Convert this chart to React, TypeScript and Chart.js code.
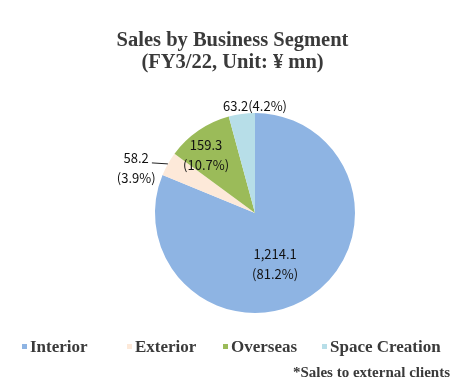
import React, { useEffect, useRef } from "react";
import { Chart, registerables } from "chart.js";

Chart.register(...registerables);

const categories = ["Interior", "Exterior", "Overseas", "Space Creation"];
const sales = [1214.1, 58.2, 159.3, 63.2];
const shares = [81.2, 3.9, 10.7, 4.2];
const colors = ["#8EB4E3", "#FDE9D9", "#9BBB59", "#B7DEE8"];
const titleLines = ["Sales by Business Segment", "(FY3/22, Unit: \u00A5 mn)"];
const footnote = "*Sales to external clients";

// label placement style: radial fraction, angular shift (deg), layout
const labelStyle = [
  { r: 0.55, dA: 12.4, oneLine: false, leader: false },
  { r: 1.27, dA: -8.7, oneLine: false, leader: true },
  { r: 0.755, dA: -6.0, oneLine: false, leader: false },
  { r: 1.07, dA: 7.6, oneLine: true, leader: false },
];
const legendX = [22, 127, 223, 322];

const TEXT = "#3a3a3a";
const SERIF = '"Liberation Serif", "Times New Roman", serif';
const LABEL_FONT = '13px "Noto Sans CJK JP", "DejaVu Sans", sans-serif';

function fmt(v: number) {
  return v.toLocaleString("en-US", { minimumFractionDigits: 1, maximumFractionDigits: 1 });
}

const decorPlugin = {
  id: "decor",
  afterDraw(chart: any) {
    const ctx = chart.ctx as CanvasRenderingContext2D;
    ctx.save();
    // title
    ctx.fillStyle = TEXT;
    ctx.font = `bold 20.5px ${SERIF}`;
    ctx.textAlign = "center";
    ctx.textBaseline = "alphabetic";
    ctx.fillText(titleLines[0], 232.5, 46);
    ctx.fillText(titleLines[1], 232.5, 67.5);

    // legend
    ctx.font = `bold 17px ${SERIF}`;
    ctx.textAlign = "left";
    categories.forEach((c, i) => {
      ctx.fillStyle = colors[i];
      ctx.fillRect(legendX[i], 344, 5, 5);
      ctx.fillStyle = TEXT;
      ctx.fillText(c, legendX[i] + 8, 352);
    });

    // footnote
    ctx.font = `bold 15px ${SERIF}`;
    ctx.textAlign = "right";
    ctx.fillText(footnote, 450, 377);

    // data labels
    const meta = chart.getDatasetMeta(0);
    ctx.font = LABEL_FONT;
    ctx.fillStyle = "#111";
    ctx.textAlign = "center";
    ctx.textBaseline = "middle";
    meta.data.forEach((arc: any, i: number) => {
      const p = arc.getProps(["x", "y", "startAngle", "endAngle", "outerRadius"], true);
      const st = labelStyle[i];
      const mid = (p.startAngle + p.endAngle) / 2;
      const a = mid + (st.dA * Math.PI) / 180;
      const lx = p.x + Math.cos(a) * p.outerRadius * st.r;
      const ly = p.y + Math.sin(a) * p.outerRadius * st.r;
      const v = fmt(sales[i]);
      const s = `(${shares[i].toFixed(1)}%)`;
      if (st.oneLine) {
        ctx.fillText(v + s, lx, ly);
      } else {
        ctx.fillText(v, lx, ly - 10);
        ctx.fillText(s, lx, ly + 10);
      }
      if (st.leader) {
        const ex = p.x + Math.cos(mid) * p.outerRadius;
        const ey = p.y + Math.sin(mid) * p.outerRadius;
        ctx.strokeStyle = "#222";
        ctx.lineWidth = 1;
        ctx.beginPath();
        ctx.moveTo(ex, ey);
        ctx.lineTo(ex - 16, ey - 1);
        ctx.stroke();
      }
    });
    ctx.restore();
  },
};

export default function App() {
  const ref = useRef<HTMLCanvasElement | null>(null);
  useEffect(() => {
    if (!ref.current) return;
    const chart = new Chart(ref.current, {
      type: "pie",
      data: {
        labels: categories,
        datasets: [
          {
            data: sales,
            backgroundColor: colors,
            borderWidth: 0,
          },
        ],
      },
      options: {
        responsive: false,
        animation: false,
        devicePixelRatio: 1,
        layout: { padding: { top: 113, bottom: 77, left: 45, right: 0 } },
        plugins: {
          legend: { display: false },
          title: { display: false },
          tooltip: { enabled: false },
        },
      },
      plugins: [decorPlugin],
    });
    return () => chart.destroy();
  }, []);
  return (
    <div style={{ position: "absolute", left: 0, top: 0, width: 465, height: 390, background: "#fff" }}>
      <canvas ref={ref} width={465} height={390} style={{ width: 465, height: 390 }} />
    </div>
  );
}
